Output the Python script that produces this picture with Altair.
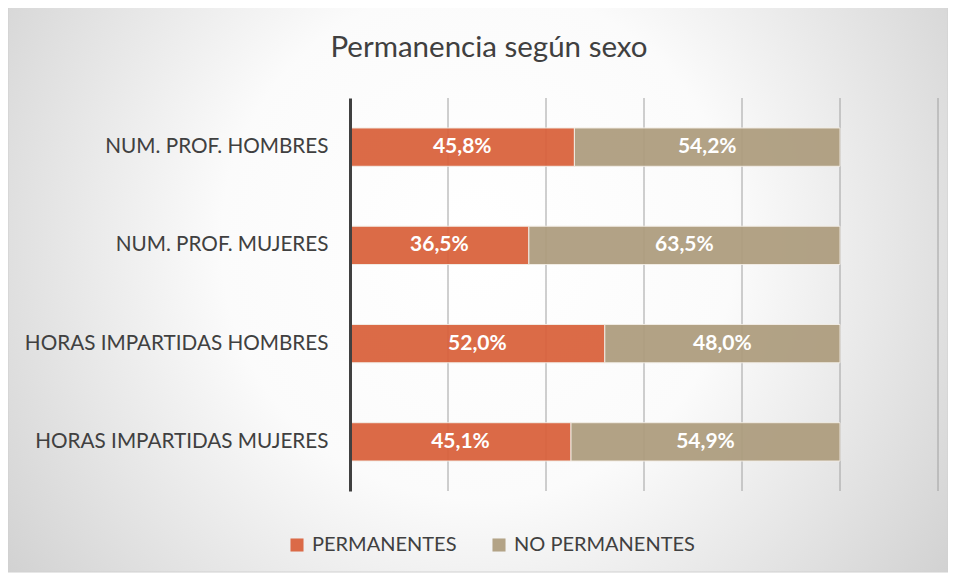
import altair as alt
import pandas as pd

categories = ["NUM. PROF. HOMBRES", "NUM. PROF. MUJERES", "HORAS IMPARTIDAS HOMBRES", "HORAS IMPARTIDAS MUJERES"]
permanentes = [0.458, 0.365, 0.520, 0.451]
no_permanentes = [0.542, 0.635, 0.480, 0.549]
series = ["PERMANENTES", "NO PERMANENTES"]
colors = ["#D9603A", "#AD9C7D"]
grid_values = [0.2, 0.4, 0.6, 0.8, 1.0, 1.2]
title_text = "Permanencia según sexo"

rows = []
for c, p, n in zip(categories, permanentes, no_permanentes):
    rows.append({"cat": c, "serie": series[0], "value": p, "ord": 0})
    rows.append({"cat": c, "serie": series[1], "value": n, "ord": 1})
df = pd.DataFrame(rows)

W, H = 588, 393
FONT = "Lato"

bg = alt.Chart(alt.Data(values=[{}])).mark_rect(
    stroke="#d0d0d0", strokeWidth=1,
    fill={"gradient": "radial", "x1": 0.5, "y1": 0.45, "r1": 0, "x2": 0.5, "y2": 0.45, "r2": 0.78,
          "stops": [{"offset": 0, "color": "#ffffff"}, {"offset": 0.35, "color": "#fbfbfb"},
                    {"offset": 1, "color": "#bdbdbd"}]}
).encode(x=alt.value(-342), x2=alt.value(W + 10), y=alt.value(-91), y2=alt.value(H + 81))

title = alt.Chart(alt.Data(values=[{"t": title_text}])).mark_text(
    font=FONT, fontSize=29.5, color="#404040", align="center", baseline="middle"
).encode(x=alt.value(139), y=alt.value(-50), text="t:N")

grid = alt.Chart(pd.DataFrame({"g": grid_values})).mark_rule(color="#a0a0a0", strokeWidth=1).encode(
    x=alt.X("g:Q", scale=alt.Scale(domain=[0, 1.2], nice=False), axis=None)
)

base = alt.Chart(df).transform_stack(
    stack="value", groupby=["cat"], as_=["v0", "v1"], sort=[alt.SortField("ord")]
)

ysc = alt.Y("cat:N", sort=categories, title=None,
            scale=alt.Scale(paddingInner=0.61, paddingOuter=0.305),
            axis=alt.Axis(labelFont=FONT, labelFontSize=20.7, labelColor="#404040", labelPadding=22,
                          labelLimit=0, ticks=False, domainColor="#404040", domainWidth=3, zindex=1))

bars = base.mark_bar(opacity=0.93, stroke="#f2ece4", strokeWidth=1).encode(
    x=alt.X("v0:Q", scale=alt.Scale(domain=[0, 1.2], nice=False), axis=None),
    x2="v1:Q",
    y=ysc,
    color=alt.Color("serie:N", scale=alt.Scale(domain=series, range=colors), sort=series,
                    legend=alt.Legend(title=None, orient="none", direction="horizontal",
                                      legendX=-63, legendY=437, symbolType="square", symbolSize=170,
                                      symbolStrokeWidth=0, labelFont=FONT, labelFontSize=20,
                                      labelLimit=0, labelColor="#404040", columnPadding=32,
                                      labelOffset=5)),
    order=alt.Order("ord:Q"),
)

labels = base.transform_calculate(
    mid="(datum.v0 + datum.v1) / 2",
    lab="replace(format(datum.value, '.1%'), '.', ',')",
).mark_text(font=FONT, fontSize=21, fontWeight="bold", color="white").encode(
    x=alt.X("mid:Q", scale=alt.Scale(domain=[0, 1.2], nice=False), axis=None),
    y=alt.Y("cat:N", sort=categories),
    text="lab:N",
)

chart = alt.layer(bg, title, grid, bars, labels).properties(
    width=W, height=H,
    autosize=alt.AutoSizeParams(type="none"),
    padding={"left": 342, "top": 90, "right": 10, "bottom": 82},
).configure_view(stroke=None)

chart.save("out.html", embed_options={"renderer": "svg", "actions": False})
